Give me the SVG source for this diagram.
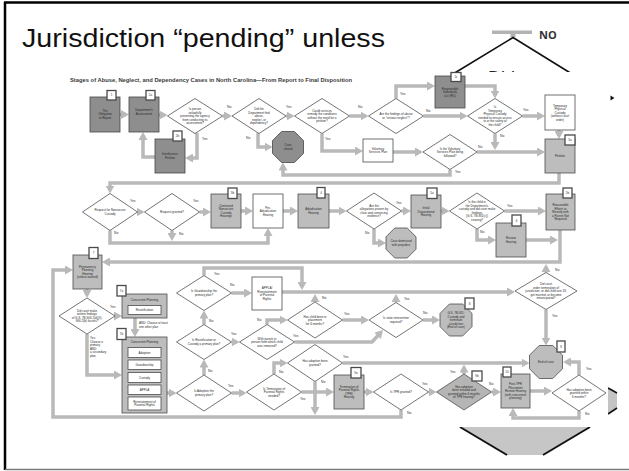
<svg xmlns="http://www.w3.org/2000/svg" width="629" height="471" viewBox="0 0 629 471">
<defs>
<marker id="ah" viewBox="0 0 8 9" refX="5" refY="4.5" markerWidth="8" markerHeight="9" markerUnits="userSpaceOnUse" orient="auto">
<path d="M0,0 L8,4.5 L0,9 Z" fill="#b9b9b9"/>
</marker>
<style>
.ln{fill:none;stroke:#b9b9b9;stroke-width:3.5;stroke-linejoin:miter;marker-end:url(#ah)}
.dk{fill:#8e8e8e;stroke:#474747;stroke-width:.8}
.lt{fill:#bdbdbd;stroke:#4d4d4d;stroke-width:.8}
.wh{fill:#fff;stroke:#4d4d4d;stroke-width:.8}
.dm{fill:#fff;stroke:#505050;stroke-width:.8}
.dg{fill:#b5b5b5;stroke:#505050;stroke-width:.8}
.tb{fill:#fff;stroke:#4a4a4a;stroke-width:1.3}
.t{font-family:"Liberation Sans",Arial,sans-serif;font-size:3px;fill:#2b2b2b;text-anchor:middle}
.s{font-family:"Liberation Sans",Arial,sans-serif;font-size:3px;fill:#2b2b2b}
.y{font-family:"Liberation Sans",Arial,sans-serif;font-size:3.4px;fill:#333}
.n{font-family:"Liberation Sans",Arial,sans-serif;font-size:3px;fill:#333;text-anchor:middle}
</style>
</defs>

<rect width="629" height="471" fill="#fff"/>

<!-- slide frame -->
<g id="frame">
<line x1="5" y1="2" x2="5" y2="470" stroke="#000" stroke-width="2.5"/>
<line x1="4" y1="2.5" x2="629" y2="2.5" stroke="#000" stroke-width="2.5"/>
<line x1="5" y1="469.5" x2="629" y2="469.5" stroke="#7a7a7a" stroke-width="1.5"/>
</g>

<!-- slide title -->
<text x="22" y="47" font-family="'Liberation Sans',Arial,sans-serif" font-size="26" fill="#111" textLength="363" lengthAdjust="spacingAndGlyphs">Jurisdiction “pending” unless</text>

<!-- decision shape partly hidden behind the chart -->
<g id="no-branch">
<rect x="492" y="30.5" width="40" height="3.5" fill="#b3b3b3"/>
<rect x="510.5" y="33" width="5" height="4" fill="#b3b3b3"/>
<polyline points="453,74 513,37.5 572,74" fill="none" stroke="#111" stroke-width="1.6"/>
<text x="539" y="39" font-family="'Open Sans','Liberation Sans',sans-serif" font-size="11" font-weight="bold" fill="#333">NO</text>
<text x="488" y="84" font-family="'Liberation Sans',Arial,sans-serif" font-size="18" fill="#222">Did court</text>
</g>
<polygon points="608,388 617,393 617,408 608,414" fill="#c4c4c4"/>
<line x1="608" y1="388" x2="617" y2="393" stroke="#111" stroke-width="1.6"/>
<line x1="617" y1="408" x2="608" y2="414" stroke="#111" stroke-width="1.6"/>
<polygon points="610.5,95.5 614.5,98 610.5,100.5" fill="#111"/>
<polygon points="460,427 590,427 543,455 507,455" fill="#c6c6c6"/>
<line x1="460" y1="427" x2="507" y2="455" stroke="#111" stroke-width="2"/>
<line x1="590" y1="427" x2="543" y2="455" stroke="#111" stroke-width="2"/>

<!-- flowchart panel -->
<rect x="38" y="72" width="570" height="355" fill="#fff"/>
<text x="70" y="82" font-family="'Liberation Sans',Arial,sans-serif" font-size="5" font-weight="bold" fill="#3a3a3a" textLength="282" lengthAdjust="spacingAndGlyphs">Stages of Abuse, Neglect, and Dependency Cases in North Carolina—From Report to Final Disposition</text>

<g id="connectors">
<path class="ln" d="M120,114.5 H126"/>
<path class="ln" d="M159,115 H164.5"/>
<path class="ln" d="M222.5,116 H229"/>
<path class="ln" d="M197,133 V158 H188"/>
<path class="ln" d="M155,157 H143 V135"/>
<path class="ln" d="M286,116 H291.5"/>
<path class="ln" d="M258,133 V147 H269.5"/>
<path class="ln" d="M349.5,116 H365.5"/>
<path class="ln" d="M322,133.5 V151 H360"/>
<path class="ln" d="M393,152 H420"/>
<path class="ln" d="M396,98.5 V86 H432"/>
<path class="ln" d="M423.5,116 H464.5"/>
<path class="ln" d="M465,86 H495 V95.5"/>
<path class="ln" d="M522.5,116 H542"/>
<path class="ln" d="M495,133.5 V147"/>
<path class="ln" d="M477,152 H542"/>
<path class="ln" d="M559,130 V136"/>
<path class="ln" d="M450,169.5 V175 H283 V165.5"/>
<path class="ln" d="M559,173 V183 H110 V190.5"/>
<path class="ln" d="M137.5,212 H141.5"/>
<path class="ln" d="M199.5,212 H208"/>
<path class="ln" d="M241,211 H250"/>
<path class="ln" d="M283,211 H295"/>
<path class="ln" d="M329,211 H343.5"/>
<path class="ln" d="M401.5,211 H408"/>
<path class="ln" d="M374,229 V243 H383"/>
<path class="ln" d="M441,211 H446.5"/>
<path class="ln" d="M504.5,211 H543"/>
<path class="ln" d="M477,229 V240 H493"/>
<path class="ln" d="M110,230.5 V243 H268 V231"/>
<path class="ln" d="M172,230.5 V238"/>
<path class="ln" d="M526,240 H555"/>
<path class="ln" d="M560,230 V262 H105"/>
<path class="ln" d="M87,289 V295"/>
<path class="ln" d="M115,316 H119"/>
<path class="ln" d="M87,334 V375 H119"/>
<path class="ln" d="M135,318 V334"/>
<path class="ln" d="M167,393 H173.5"/>
<path class="ln" d="M231.5,393 H243.5"/>
<path class="ln" d="M204,375 V362.5"/>
<path class="ln" d="M231.5,342 H236.5"/>
<path class="ln" d="M204,324.5 V313.5"/>
<path class="ln" d="M231.5,293 H249"/>
<path class="ln" d="M204,275.5 V268 H302 V287"/>
<path class="ln" d="M282,292 H512"/>
<path class="ln" d="M267,324.5 V320 H284.5"/>
<path class="ln" d="M294.5,342 H372 L381,332.2"/>
<path class="ln" d="M342.5,320 H366"/>
<path class="ln" d="M315,302 V297"/>
<path class="ln" d="M396,302.5 V297"/>
<path class="ln" d="M423,320 H437"/>
<path class="ln" d="M546,272.5 V267"/>
<path class="ln" d="M546,309.5 V342.5"/>
<path class="ln" d="M274,374 V363 H284.5"/>
<path class="ln" d="M301.5,392 H331"/>
<path class="ln" d="M342.5,363 H526.5"/>
<path class="ln" d="M315,381.5 V412"/>
<path class="ln" d="M364,392 H370.5"/>
<path class="ln" d="M428.5,392 H433.5"/>
<path class="ln" d="M464,374 V367.5"/>
<path class="ln" d="M491.5,392 H498"/>
<path class="ln" d="M530,391 H549"/>
<path class="ln" d="M579,375 V362 H566"/>
<path class="ln" d="M579,411 V418 H513 V411"/>
<path class="ln" d="M401,410 V417 H53 V270 H70"/>
</g>

<g id="edge-labels" class="y">
<text x="227" y="108">No</text>
<text x="202" y="140">Yes</text>
<text x="246" y="139">No</text>
<text x="286" y="108">Yes</text>
<text x="358" y="108">No</text>
<text x="325" y="140">Yes</text>
<text x="400" y="95">Yes</text>
<text x="426" y="112">No</text>
<text x="523" y="111">Yes</text>
<text x="500" y="137">No</text>
<text x="478" y="148">No</text>
<text x="455" y="173">Yes</text>
<text x="130" y="202">Yes</text>
<text x="114" y="234">No</text>
<text x="193" y="202">Yes</text>
<text x="179" y="235">No</text>
<text x="396" y="204">Yes</text>
<text x="365" y="234">No</text>
<text x="507" y="207">Yes</text>
<text x="480" y="233">No</text>
<text x="110" y="308">Yes</text>
<text x="230" y="286">No</text>
<text x="214" y="275">Yes</text>
<text x="209" y="322">No</text>
<text x="231" y="335">Yes</text>
<text x="257" y="321">No</text>
<text x="293" y="337">Yes</text>
<text x="208" y="372">No</text>
<text x="228" y="387">Yes</text>
<text x="279" y="373">No</text>
<text x="300" y="400">Yes</text>
<text x="321" y="383">No</text>
<text x="343" y="358">Yes</text>
<text x="344" y="315">Yes</text>
<text x="322" y="299">No</text>
<text x="404" y="300">Yes</text>
<text x="423" y="314">No</text>
<text x="555" y="271">No</text>
<text x="552" y="317">Yes</text>
<text x="422" y="385">Yes</text>
<text x="407" y="414">No</text>
<text x="450" y="373">Yes</text>
<text x="489" y="385">No</text>
<text x="586" y="370">Yes</text>
<text x="585" y="415">No</text>
</g>

<g id="n-report">
<rect class="dk" x="90" y="97" width="30" height="35"/>
<text class="t" y="111.5"><tspan x="105">The</tspan><tspan x="105" dy="3.5">Obligation</tspan><tspan x="105" dy="3.5">to Report</tspan></text>
<rect class="tb" x="107" y="90.5" width="9" height="9.5"/><text class="n" x="111.5" y="96.3">1</text>
</g>
<g id="n-assessment">
<rect class="dk" x="129" y="97" width="30" height="35"/>
<text class="t" y="111.3"><tspan x="144">Department's</tspan><tspan x="144" dy="3.5">Assessment</tspan></text>
<rect class="tb" x="146" y="90.5" width="9" height="9.5"/><text class="n" x="150.5" y="96.3">2a</text>
</g>
<g id="d-interference">
<polygon class="dm" points="195,98.5 222.5,116 195,133.5 167.5,116"/>
<text class="t" y="110.1"><tspan x="195">Is person</tspan><tspan x="195" dy="3.5">unlawfully</tspan><tspan x="195" dy="3.5">preventing the agency</tspan><tspan x="195" dy="3.5">from conducting its</tspan><tspan x="195" dy="3.5">assessment?</tspan></text>
</g>
<g id="n-interference-petition">
<rect class="dk" x="155" y="139" width="30" height="34"/>
<text class="t" y="155.4"><tspan x="170">Interference</tspan><tspan x="170" dy="3.5">Petition</tspan></text>
<rect class="tb" x="173" y="131" width="9" height="10"/><text class="n" x="177.5" y="137">2b</text>
</g>
<g id="d-finding">
<polygon class="dm" points="259,98.5 286,116 259,133.5 232,116"/>
<text class="t" y="110.1"><tspan x="259">Did the</tspan><tspan x="259" dy="3.5">Department find</tspan><tspan x="259" dy="3.5">abuse,</tspan><tspan x="259" dy="3.5">neglect, or</tspan><tspan x="259" dy="3.5">dependency?</tspan></text>
</g>
<g id="o-case-closed">
<polygon class="dk" points="281.6,131.5 294.4,131.5 303.5,140.6 303.5,153.4 294.4,162.5 281.6,162.5 272.5,153.4 272.5,140.6"/>
<text class="t" y="146.4"><tspan x="288">Case</tspan><tspan x="288" dy="3.5">closed</tspan></text>
</g>
<g id="d-services">
<polygon class="dm" points="322,98.5 349.5,116 322,133.5 294.5,116"/>
<text class="t" y="111.9"><tspan x="322">Could services</tspan><tspan x="322" dy="3.5">remedy the conditions</tspan><tspan x="322" dy="3.5">without the need for a</tspan><tspan x="322" dy="3.5">petition?</tspan></text>
</g>
<g id="d-serious">
<polygon class="dm" points="396,98.5 423.5,116 396,133.5 368.5,116"/>
<text class="t" y="115.4"><tspan x="396">Are the findings of abuse</tspan><tspan x="396" dy="3.5">or “serious neglect”?</tspan></text>
</g>
<g id="n-ril">
<rect class="dk" x="435" y="76" width="30" height="32"/>
<text class="t" y="89.6"><tspan x="450">Responsible</tspan><tspan x="450" dy="3.5">Individuals</tspan><tspan x="450" dy="3.5">List (RIL)</tspan></text>
<rect class="tb" x="451" y="72.5" width="10" height="9"/><text class="n" x="456" y="78">2c</text>
</g>
<g id="d-temp-custody">
<polygon class="dm" points="495,98.5 522.5,116 495,133.5 467.5,116"/>
<text class="t" y="108.4"><tspan x="495">Is</tspan><tspan x="495" dy="3.5">Temporary</tspan><tspan x="495" dy="3.5">Physical Custody</tspan><tspan x="495" dy="3.5">needed to ensure access</tspan><tspan x="495" dy="3.5">to or the safety of</tspan><tspan x="495" dy="3.5">the child?</tspan></text>
</g>
<g id="n-temp-custody">
<rect class="wh" x="545" y="95" width="30" height="35"/>
<text class="t" y="106.6"><tspan x="560">Temporary</tspan><tspan x="560" dy="3.5">Physical</tspan><tspan x="560" dy="3.5">Custody</tspan><tspan x="560" dy="3.5">(without court</tspan><tspan x="560" dy="3.5">order)</tspan></text>
</g>
<g id="n-voluntary">
<rect class="wh" x="363" y="139" width="30" height="23"/>
<text class="t" y="149.9"><tspan x="378">Voluntary</tspan><tspan x="378" dy="3.5">Services Plan</tspan></text>
</g>
<g id="d-followed">
<polygon class="dm" points="450,134.5 477,152 450,169.5 423,152"/>
<text class="t" y="149.6"><tspan x="450">Is the Voluntary</tspan><tspan x="450" dy="3.5">Services Plan being</tspan><tspan x="450" dy="3.5">followed?</tspan></text>
</g>
<g id="n-petition">
<rect class="lt" x="545" y="139" width="30" height="34"/>
<text class="t" x="560" y="157.1">Petition</text>
<rect class="tb" x="565" y="135" width="10" height="10"/><text class="n" x="570" y="141">3a</text>
</g>

<g id="d-nonsecure">
<polygon class="dm" points="110,193.5 137.5,212 110,230.5 82.5,212"/>
<text class="t" y="211.4"><tspan x="110">Request for Nonsecure</tspan><tspan x="110" dy="3.5">Custody</tspan></text>
</g>
<g id="d-granted">
<polygon class="dm" points="172,193.5 199.5,212 172,230.5 144.5,212"/>
<text class="t" x="172" y="213.1">Request granted?</text>
</g>
<g id="n-continued">
<rect class="lt" x="211" y="194" width="30" height="34"/>
<text class="t" y="206.9"><tspan x="226">Continued</tspan><tspan x="226" dy="3.5">Nonsecure</tspan><tspan x="226" dy="3.5">Custody</tspan><tspan x="226" dy="3.5">Hearings</tspan></text>
<rect class="tb" x="228" y="188" width="9" height="10.5"/><text class="n" x="232.5" y="194.3">3b</text>
</g>
<g id="n-preadjudication">
<rect class="wh" x="253" y="194" width="30" height="34"/>
<text class="t" y="208.6"><tspan x="268">Pre-</tspan><tspan x="268" dy="3.5">Adjudication</tspan><tspan x="268" dy="3.5">Hearing</tspan></text>
</g>
<g id="n-adjudication">
<rect class="lt" x="298" y="194" width="31" height="34"/>
<text class="t" y="210.4"><tspan x="313.5">Adjudication</tspan><tspan x="313.5" dy="3.5">Hearing</tspan></text>
<rect class="tb" x="317" y="187.5" width="8" height="10.5"/><text class="n" x="321" y="193.8">4</text>
</g>
<g id="d-proven">
<polygon class="dm" points="374,193 401.5,211 374,229 346.5,211"/>
<text class="t" y="206.9"><tspan x="374">Are the</tspan><tspan x="374" dy="3.5">allegations proven by</tspan><tspan x="374" dy="3.5">clear and convincing</tspan><tspan x="374" dy="3.5">evidence?</tspan></text>
</g>
<g id="o-dismissed">
<polygon class="lt" points="394.8,228 407.2,228 416,236.8 416,249.2 407.2,258 394.8,258 386,249.2 386,236.8"/>
<text class="t" y="242.4"><tspan x="401">Case dismissed</tspan><tspan x="401" dy="3.5">with prejudice</tspan></text>
</g>
<g id="n-initial-disposition">
<rect class="lt" x="411" y="195" width="30" height="33"/>
<text class="t" y="209.1"><tspan x="426">Initial</tspan><tspan x="426" dy="3.5">Dispositional</tspan><tspan x="426" dy="3.5">Hearing</tspan></text>
<rect class="tb" x="427" y="188" width="10" height="10.5"/><text class="n" x="432" y="194.3">5a</text>
</g>
<g id="d-ceasing">
<polygon class="dm" points="477,193 504.5,211 477,229 449.5,211"/>
<text class="t" y="203.4"><tspan x="477">Is the child in</tspan><tspan x="477" dy="3.5">the Department's</tspan><tspan x="477" dy="3.5">custody and did court make</tspan><tspan x="477" dy="3.5">findings</tspan><tspan x="477" dy="3.5">(G.S. 7B-901(c))</tspan><tspan x="477" dy="3.5">ceasing?</tspan></text>
</g>
<g id="n-reasonable-efforts">
<rect class="lt" x="546" y="194" width="29" height="36"/>
<text class="t" y="206.1"><tspan x="560.5">Reasonable</tspan><tspan x="560.5" dy="3.5">Efforts to</tspan><tspan x="560.5" dy="3.5">Reunify with</tspan><tspan x="560.5" dy="3.5">a Parent Not</tspan><tspan x="560.5" dy="3.5">Required</tspan></text>
<rect class="tb" x="563" y="188" width="9" height="10"/><text class="n" x="567.5" y="194">5b</text>
</g>
<g id="n-review">
<rect class="lt" x="496" y="223" width="30" height="34"/>
<text class="t" y="239.4"><tspan x="511">Review</tspan><tspan x="511" dy="3.5">Hearing</tspan></text>
<rect class="tb" x="512" y="215" width="9" height="11"/><text class="n" x="516.5" y="221.5">6</text>
</g>

<g id="n-permanency">
<rect class="lt" x="73" y="255" width="29" height="34"/>
<text class="t" y="267.9"><tspan x="87.5">Permanency</tspan><tspan x="87.5" dy="3.5">Planning</tspan><tspan x="87.5" dy="3.5">Hearing</tspan><tspan x="87.5" dy="3.5">(unless waived)</tspan></text>
<rect class="tb" x="89" y="247.5" width="9" height="11"/><text class="n" x="93.5" y="254">7</text>
</g>
<g id="d-written-findings">
<polygon class="dm" points="87,298 115,316 87,334 59,316"/>
<text class="t" y="311.9"><tspan x="87">Did court make</tspan><tspan x="87" dy="3.5">written findings</tspan><tspan x="87" dy="3.5">of G.S. 7B-906.1(d)(3),</tspan><tspan x="87" dy="3.5">906.2(b) factors?</tspan></text>
</g>
<text class="s" y="339"><tspan x="90">Yes:</tspan><tspan x="90" dy="3.6">Choose a</tspan><tspan x="90" dy="3.6">primary</tspan><tspan x="90" dy="3.6">AND</tspan><tspan x="90" dy="3.6">a secondary</tspan><tspan x="90" dy="3.6">plan</tspan></text>
<g id="n-concurrent-primary">
<rect class="lt" x="122" y="294" width="45" height="24" stroke-width="1.2"/>
<text class="t" x="144.5" y="300.5">Concurrent Planning</text>
<rect class="wh" x="128" y="305.5" width="33" height="9"/>
<text class="t" x="144.5" y="311">Reunification</text>
<rect class="tb" x="117" y="285.5" width="9" height="10.5"/><text class="n" x="121.5" y="291.8">7a</text>
</g>
<text class="s" y="324"><tspan x="139">AND: Choose at least</tspan><tspan x="139" dy="3.5">one other plan</tspan></text>
<g id="n-concurrent-secondary">
<rect class="lt" x="122" y="337" width="45" height="76" stroke-width="1.2"/>
<text class="t" x="144.5" y="343">Concurrent Planning</text>
<rect class="wh" x="128" y="347.5" width="33" height="10"/><text class="t" x="144.5" y="353.6">Adoption</text>
<rect class="wh" x="128" y="360" width="33" height="9.5"/><text class="t" x="144.5" y="365.8">Guardianship</text>
<rect class="wh" x="128" y="372.5" width="33" height="10"/><text class="t" x="144.5" y="378.6">Custody</text>
<rect class="wh" x="128" y="385" width="33" height="9.5"/><text class="t" x="144.5" y="390.8">APPLA</text>
<rect class="wh" x="128" y="397" width="33" height="13"/>
<text class="t" y="402.6"><tspan x="144.5">Reinstatement of</tspan><tspan x="144.5" dy="3.5">Parental Rights</tspan></text>
<rect class="tb" x="117" y="328.5" width="9" height="11"/><text class="n" x="121.5" y="335">7b</text>
</g>
<g id="d-guardianship">
<polygon class="dm" points="204,275.5 231.5,293 204,310.5 176.5,293"/>
<text class="t" y="292.4"><tspan x="204">Is Guardianship the</tspan><tspan x="204" dy="3.5">primary plan?</tspan></text>
</g>
<g id="n-appla">
<rect class="wh" x="252" y="277" width="30" height="33"/>
<text class="t" y="289.4"><tspan x="267">APPLA/</tspan><tspan x="267" dy="3.5">Reinstatement</tspan><tspan x="267" dy="3.5">of Parental</tspan><tspan x="267" dy="3.5">Rights</tspan></text>
</g>
<g id="d-reunification">
<polygon class="dm" points="204,324.5 231.5,342 204,359.5 176.5,342"/>
<text class="t" y="341.4"><tspan x="204">Is Reunification or</tspan><tspan x="204" dy="3.5">Custody a primary plan?</tspan></text>
</g>
<g id="d-with-parent">
<polygon class="dm" points="267,324.5 294.5,342 267,359.5 239.5,342"/>
<text class="t" y="339.6"><tspan x="267">With parent or</tspan><tspan x="267" dy="3.5">person from which child</tspan><tspan x="267" dy="3.5">was removed?</tspan></text>
</g>
<g id="d-adoption-plan">
<polygon class="dm" points="204,375 231.5,393 204,411 176.5,393"/>
<text class="t" y="392.4"><tspan x="204">Is Adoption the</tspan><tspan x="204" dy="3.5">primary plan?</tspan></text>
</g>
<g id="d-tpr-needed">
<polygon class="dm" points="274,374 301.5,392 274,410 246.5,392"/>
<text class="t" y="389.6"><tspan x="274">Is Termination of</tspan><tspan x="274" dy="3.5">Parental Rights</tspan><tspan x="274" dy="3.5">needed?</tspan></text>
</g>
<g id="d-placement">
<polygon class="dm" points="315,302 342.5,320 315,338 287.5,320"/>
<text class="t" y="317.6"><tspan x="315">Has child been in</tspan><tspan x="315" dy="3.5">placement</tspan><tspan x="315" dy="3.5">for 6 months?</tspan></text>
</g>
<g id="d-state-intervention">
<polygon class="dm" points="396,302.5 423,320 396,337.5 369,320"/>
<text class="t" y="319.4"><tspan x="396">Is state intervention</tspan><tspan x="396" dy="3.5">required?</tspan></text>
</g>
<g id="o-7b-911">
<polygon class="lt" points="449.4,304 462.6,304 472,313.4 472,326.6 462.6,336 449.4,336 440,326.6 440,313.4"/>
<text class="t" y="314.1"><tspan x="456">G.S. 7B-911:</tspan><tspan x="456" dy="3.5">Custody and</tspan><tspan x="456" dy="3.5">terminate</tspan><tspan x="456" dy="3.5">jurisdiction</tspan><tspan x="456" dy="3.5">(End of case)</tspan></text>
<rect class="tb" x="465" y="298" width="9" height="11"/><text class="n" x="469.5" y="304.5">8</text>
</g>
<g id="d-terminate">
<polygon class="dm" points="546,272.5 577,291 546,309.5 515,291"/>
<text class="t" y="285.1"><tspan x="546">Did court</tspan><tspan x="546" dy="3.5">order termination of</tspan><tspan x="546" dy="3.5">jurisdiction, or did child turn 18,</tspan><tspan x="546" dy="3.5">get married, or become</tspan><tspan x="546" dy="3.5">emancipated?</tspan></text>
</g>
<g id="o-end-of-case">
<polygon class="lt" points="539.2,345.5 552.8,345.5 562.5,355.2 562.5,368.8 552.8,378.5 539.2,378.5 529.5,368.8 529.5,355.2"/>
<text class="t" x="546" y="363.1">End of case</text>
<rect class="tb" x="557" y="341" width="8" height="11"/><text class="n" x="561" y="347.5">8</text>
</g>
<g id="d-adoption-granted">
<polygon class="dm" points="315,344.5 342.5,363 315,381.5 287.5,363"/>
<text class="t" y="362.4"><tspan x="315">Has adoption been</tspan><tspan x="315" dy="3.5">granted?</tspan></text>
</g>
<g id="n-tpr-hearing">
<rect class="lt" x="334" y="375" width="30" height="34"/>
<text class="t" y="387.9"><tspan x="349">Termination of</tspan><tspan x="349" dy="3.5">Parental Rights</tspan><tspan x="349" dy="3.5">(TPR)</tspan><tspan x="349" dy="3.5">Hearing</tspan></text>
<rect class="tb" x="351" y="367.5" width="10" height="10.5"/><text class="n" x="356" y="373.8">9a</text>
</g>
<g id="d-tpr-granted">
<polygon class="dm" points="401,374 428.5,392 401,410 373.5,392"/>
<text class="t" x="401" y="393.1">Is TPR granted?</text>
</g>
<g id="d-adoption-initiated">
<polygon class="dg" points="464,374 491.5,392 464,410 436.5,392"/>
<text class="t" y="387.9"><tspan x="464">Has adoption</tspan><tspan x="464" dy="3.5">been initiated and</tspan><tspan x="464" dy="3.5">granted within 6 months</tspan><tspan x="464" dy="3.5">of TPR hearing?</tspan></text>
<rect class="tb" x="472" y="371" width="10" height="10"/><text class="n" x="477" y="377">9b</text>
</g>
<g id="n-post-tpr">
<rect class="lt" x="501" y="374" width="29" height="34"/>
<text class="t" y="385.1"><tspan x="515.5">Post-TPR</tspan><tspan x="515.5" dy="3.5">Placement</tspan><tspan x="515.5" dy="3.5">Review Hearing</tspan><tspan x="515.5" dy="3.5">(with concurrent</tspan><tspan x="515.5" dy="3.5">planning)</tspan></text>
<rect class="tb" x="503" y="367" width="8" height="10"/><text class="n" x="507" y="373">10</text>
</g>
<g id="d-adoption-six-months">
<polygon class="dm" points="579,375 606,393 579,411 552,393"/>
<text class="t" y="390.6"><tspan x="579">Has adoption been</tspan><tspan x="579" dy="3.5">granted within</tspan><tspan x="579" dy="3.5">6 months?</tspan></text>
</g>
</svg>
